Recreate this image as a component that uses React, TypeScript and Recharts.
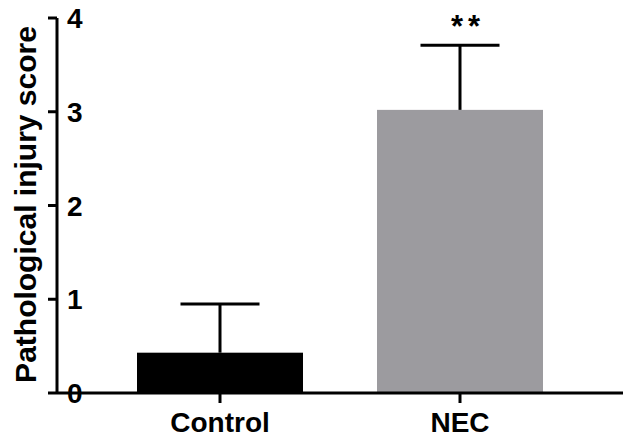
import React from "react";
import { BarChart, Bar, XAxis, YAxis, Label } from "recharts";

const groups = ["Control", "NEC"];
const means = [0.43, 3.02];
const errors = [0.52, 0.69];
const significance = ["", "**"];
const colors = ["#000000", "#9c9b9f"];
const yTicks = [0, 1, 2, 3, 4];

const data = groups.map((g, i) => ({
  group: g,
  mean: means[i],
  err: errors[i],
  sig: significance[i],
  color: colors[i],
}));

const FONT = "'Liberation Sans', Arial, sans-serif";

const BarWithError = (props: any) => {
  const { x, y, width, height, payload } = props;
  const ppu = height / payload.mean;
  const top = y - payload.err * ppu;
  const cx = x + width / 2;
  const capHalf = 39.5;
  return (
    <g>
      <rect x={x} y={y} width={width} height={height} fill={payload.color} />
      <line x1={cx} y1={y} x2={cx} y2={top} stroke="#000" strokeWidth={3} />
      <line x1={cx - capHalf} y1={top} x2={cx + capHalf} y2={top} stroke="#000" strokeWidth={3} />
      {payload.sig ? (
        <text
          x={cx + 8}
          y={top - 8}
          textAnchor="middle"
          fontFamily={FONT}
          fontWeight="bold"
          fontSize={31}
          letterSpacing={5}
          fill="#000"
        >
          {payload.sig}
        </text>
      ) : null}
    </g>
  );
};

const YTick = (props: any) => {
  const { x, y, payload } = props;
  return (
    <text
      x={x + 19}
      y={y}
      dy="0.36em"
      textAnchor="start"
      fontFamily={FONT}
      fontWeight="bold"
      fontSize={28}
      fill="#000"
    >
      {payload.value}
    </text>
  );
};

const XTick = (props: any) => {
  const { x, y, payload } = props;
  return (
    <text
      x={x}
      y={y}
      dy={29}
      textAnchor="middle"
      fontFamily={FONT}
      fontWeight="bold"
      fontSize={28}
      fill="#000"
    >
      {payload.value}
    </text>
  );
};

const YLabel = (props: any) => {
  const vb = props.viewBox || {};
  const lx = (vb.x || 0) + 36;
  const ly = (vb.y || 0) + (vb.height || 0) / 2 - 1;
  return (
    <text
      x={lx}
      y={ly}
      transform={`rotate(-90, ${lx}, ${ly})`}
      textAnchor="middle"
      fontFamily={FONT}
      fontWeight="bold"
      fontSize={30}
      fill="#000"
    >
      Pathological injury score
    </text>
  );
};

export default function App() {
  return (
    <div style={{ position: "absolute", left: 0, top: 0, width: 630, height: 439, background: "#fff" }}>
      <BarChart
        width={630}
        height={439}
        data={data}
        margin={{ top: 18, right: 7, bottom: 0, left: 0 }}
        barCategoryGap={0}
      >
        <XAxis
          dataKey="group"
          padding={{ left: 43, right: 43 }}
          height={46}
          tickSize={10}
          tickMargin={0}
          axisLine={{ stroke: "#000", strokeWidth: 3 }}
          tickLine={{ stroke: "#000", strokeWidth: 3 }}
          tick={<XTick />}
          interval={0}
        />
        <YAxis
          domain={[0, 4]}
          ticks={yTicks}
          width={57}
          tickSize={9}
          tickMargin={0}
          axisLine={{ stroke: "#000", strokeWidth: 3 }}
          tickLine={{ stroke: "#000", strokeWidth: 3 }}
          tick={<YTick />}
          interval={0}
        >
          <Label content={<YLabel />} />
        </YAxis>
        <Bar dataKey="mean" barSize={166} isAnimationActive={false} shape={<BarWithError />} />
      </BarChart>
    </div>
  );
}
